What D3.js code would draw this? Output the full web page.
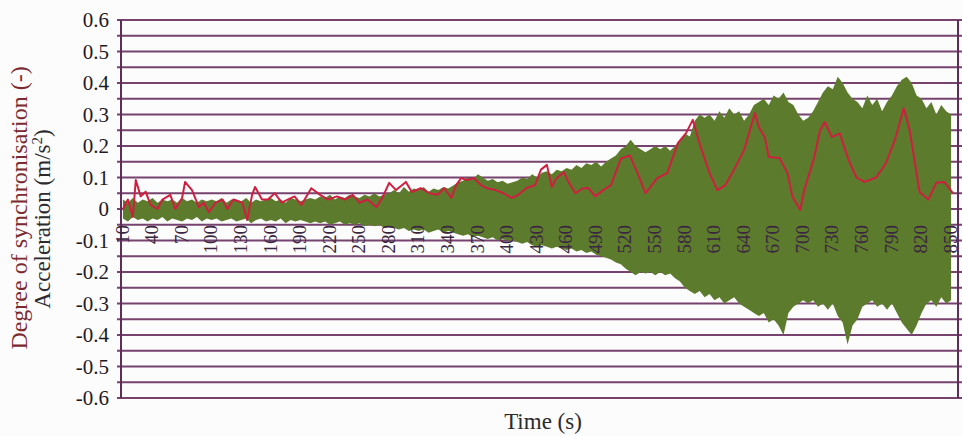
<!DOCTYPE html>
<html>
<head>
<meta charset="utf-8">
<script src="https://cdn.jsdelivr.net/npm/d3@7"></script>
<style>
  html, body { margin: 0; padding: 0; background: #fcfcfd; }
  svg { display: block; }
  svg text { font-family: "Liberation Serif", "DejaVu Serif", serif; }
</style>
</head>
<body>
<div id="chart"></div>
<script>
// x tick labels (s) and y tick values
const timeTicks = [10, 40, 70, 100, 130, 160, 190, 220, 250, 280, 310, 340, 370, 400, 430,
  460, 490, 520, 550, 580, 610, 640, 670, 700, 730, 760, 790, 820, 850];
const yTicks = [0.6, 0.5, 0.4, 0.3, 0.2, 0.1, 0, -0.1, -0.2, -0.3, -0.4, -0.5, -0.6];

// acceleration envelope, one value every 5 s from 10 s to 850 s
const accStart = 10, accStep = 5;
const accUpper = [
  0.03, 0.02, 0.035, 0.02, 0.03, 0.025, 0.035, 0.02, 0.03, 0.025, 0.03, 0.02, 0.035, 0.025, 0.03, 0.02, 0.03, 0.025, 0.03,
  0.025, 0.035, 0.02, 0.03, 0.03, 0.025, 0.035, 0.02, 0.03, 0.025, 0.03, 0.035, 0.025, 0.03, 0.02, 0.035, 0.03, 0.025, 0.03, 0.035,
  0.03, 0.04, 0.035, 0.045, 0.03, 0.04, 0.035, 0.045, 0.04, 0.035, 0.045, 0.04, 0.05, 0.04, 0.045, 0.05,
  0.06, 0.05, 0.07, 0.055, 0.065, 0.06, 0.07, 0.055, 0.065, 0.06, 0.07, 0.065,
  0.075, 0.085, 0.09, 0.1, 0.095, 0.11, 0.1, 0.09, 0.095, 0.085, 0.09, 0.08,
  0.085, 0.09, 0.1, 0.095, 0.11, 0.1, 0.115, 0.12, 0.11, 0.125,
  0.12, 0.13, 0.125, 0.14, 0.13, 0.145, 0.14, 0.15, 0.135, 0.15,
  0.16, 0.17, 0.19, 0.2, 0.22, 0.2, 0.19, 0.18, 0.19, 0.2,
  0.19, 0.2, 0.185, 0.2, 0.22, 0.24, 0.23, 0.28, 0.3, 0.29,
  0.3, 0.28, 0.31, 0.29, 0.32, 0.3, 0.31, 0.28, 0.3, 0.33,
  0.34, 0.35, 0.33, 0.36, 0.35, 0.37, 0.34, 0.33, 0.3, 0.28,
  0.29, 0.31, 0.34, 0.37, 0.39, 0.38, 0.42, 0.4, 0.37, 0.35,
  0.34, 0.32, 0.36, 0.33, 0.35, 0.31, 0.34, 0.36, 0.39, 0.41,
  0.42, 0.4, 0.36, 0.35, 0.32, 0.34, 0.3, 0.33, 0.31, 0.3
];
const accLower = [
  -0.03, -0.04, -0.025, -0.035, -0.03, -0.04, -0.03, -0.035, -0.025, -0.04, -0.03, -0.035, -0.04, -0.03, -0.035, -0.025, -0.04, -0.03, -0.035,
  -0.03, -0.04, -0.035, -0.03, -0.04, -0.035, -0.03, -0.045, -0.035, -0.03, -0.04, -0.035, -0.04, -0.03, -0.045, -0.035, -0.04, -0.035, -0.04, -0.045,
  -0.04, -0.045, -0.04, -0.05, -0.045, -0.04, -0.05, -0.045, -0.05, -0.045, -0.055, -0.05, -0.055, -0.05, -0.06, -0.055,
  -0.06, -0.065, -0.06, -0.07, -0.065, -0.07, -0.065, -0.075, -0.07, -0.065, -0.075, -0.07,
  -0.075, -0.08, -0.085, -0.08, -0.09, -0.085, -0.09, -0.095, -0.09, -0.1, -0.095, -0.1,
  -0.1, -0.105, -0.11, -0.105, -0.115, -0.12, -0.115, -0.12, -0.125, -0.12,
  -0.125, -0.13, -0.125, -0.135, -0.13, -0.14, -0.135, -0.145, -0.15, -0.155,
  -0.16, -0.17, -0.175, -0.19, -0.2, -0.21, -0.2, -0.205, -0.2, -0.21,
  -0.2, -0.21, -0.205, -0.22, -0.23, -0.25, -0.26, -0.27, -0.26, -0.28,
  -0.27, -0.29, -0.28, -0.3, -0.29, -0.28, -0.3, -0.31, -0.32, -0.33,
  -0.34, -0.33, -0.36, -0.35, -0.37, -0.4, -0.33, -0.31, -0.3, -0.29,
  -0.3, -0.29, -0.31, -0.3, -0.32, -0.3, -0.34, -0.36, -0.43, -0.37,
  -0.35, -0.31, -0.3, -0.29, -0.31, -0.3, -0.32, -0.3, -0.33, -0.36,
  -0.38, -0.4, -0.37, -0.33, -0.3, -0.29, -0.31, -0.28, -0.3, -0.29
];

// degree of synchronisation
const syncTime = [10, 15, 20, 23, 28, 33, 38, 45, 50, 58, 63, 70, 73, 80, 87, 92, 97, 104, 111, 116,
  122, 131, 136, 141, 144, 151, 157, 164, 171, 177, 184, 191, 201, 210, 218, 227, 235, 243, 250, 258,
  267, 273, 280, 287, 297, 303, 312, 321, 329, 336, 343, 348, 353, 359, 366, 373, 379, 388, 396, 404,
  411, 419, 428, 434, 440, 445, 449, 457, 463, 469, 476, 482, 489, 497, 505, 515, 524, 532, 540, 552,
  562, 573, 581, 588, 596, 605, 613, 621, 628, 640, 651, 655, 661, 665, 676, 684, 689, 697, 701, 711,
  717, 722, 729, 737, 746, 754, 762, 774, 784, 793, 802, 808, 818, 827, 835, 843, 852];
const syncValue = [0.0, 0.03, -0.025, 0.092, 0.04, 0.055, 0.013, 0.0, 0.03, 0.045, 0.0, 0.035, 0.086, 0.06, 0.006, 0.02, -0.01, 0.02, 0.03, 0.0,
  0.03, 0.02, -0.035, 0.045, 0.07, 0.03, 0.03, 0.05, 0.02, 0.03, 0.04, 0.013, 0.066, 0.045, 0.03, 0.04, 0.03, 0.045, 0.02, 0.03,
  0.006, 0.035, 0.083, 0.06, 0.086, 0.054, 0.066, 0.05, 0.045, 0.066, 0.035, 0.076, 0.098, 0.092, 0.098, 0.076, 0.066, 0.06, 0.05, 0.035,
  0.045, 0.066, 0.076, 0.125, 0.14, 0.07, 0.095, 0.117, 0.08, 0.05, 0.065, 0.067, 0.04, 0.06, 0.076, 0.16, 0.17, 0.114, 0.05, 0.098,
  0.114, 0.21, 0.24, 0.283, 0.197, 0.114, 0.06, 0.076, 0.114, 0.187, 0.305, 0.26, 0.228, 0.165, 0.162, 0.114, 0.04, -0.003, 0.06, 0.162,
  0.25, 0.276, 0.228, 0.24, 0.156, 0.1, 0.086, 0.1, 0.146, 0.22, 0.32, 0.25, 0.054, 0.03, 0.083, 0.086, 0.05];

const width = 962, height = 436;
const plot = { left: 121, right: 958, top: 20, bottom: 398 };
const serif = '"Liberation Serif", "DejaVu Serif", serif';

const svg = d3.select('#chart')
  .append('svg')
  .attr('width', width)
  .attr('height', height)
  .attr('font-family', serif);

const x = d3.scaleLinear().domain([8, 857]).range([plot.left, plot.right]);
const y = d3.scaleLinear().domain([-0.6, 0.6]).range([plot.bottom, plot.top]);

// gridlines every 0.05
const gridValues = d3.range(-12, 13).map(i => i * 0.05);
svg.append('g')
  .attr('class', 'grid')
  .selectAll('line')
  .data(gridValues)
  .join('line')
  .attr('x1', plot.left - 4)
  .attr('x2', plot.right + 4)
  .attr('y1', d => y(d))
  .attr('y2', d => y(d))
  .attr('stroke', '#76426e')
  .attr('stroke-width', 1.8);

// acceleration
const acc = accUpper.map((u, i) => ({ t: accStart + i * accStep, hi: u, lo: accLower[i] }));
const accArea = d3.area()
  .x(d => x(d.t))
  .y0(d => y(d.lo))
  .y1(d => y(d.hi));
svg.append('path')
  .datum(acc)
  .attr('class', 'acc')
  .attr('fill', '#5d7b2c')
  .attr('d', accArea);

// synchronisation
const sync = syncTime.map((t, i) => ({ t: t, v: syncValue[i] }));
const syncLine = d3.line()
  .x(d => x(d.t))
  .y(d => y(d.v));
svg.append('path')
  .datum(sync)
  .attr('class', 'sync')
  .attr('fill', 'none')
  .attr('stroke', '#cf1f40')
  .attr('stroke-width', 2)
  .attr('stroke-linejoin', 'round')
  .attr('d', syncLine);

// plot borders
svg.append('g')
  .selectAll('line')
  .data([plot.left, plot.right])
  .join('line')
  .attr('x1', d => d)
  .attr('x2', d => d)
  .attr('y1', plot.top)
  .attr('y2', plot.bottom)
  .attr('stroke', '#5e2d58')
  .attr('stroke-width', 2);

// y tick labels
svg.append('g')
  .attr('class', 'y-ticks')
  .selectAll('text')
  .data(yTicks)
  .join('text')
  .attr('x', 109)
  .attr('y', d => y(d))
  .attr('dy', '0.35em')
  .attr('text-anchor', 'end')
  .attr('font-family', serif)
  .attr('font-size', 21)
  .attr('fill', '#1e1a22')
  .text(d => (d === 0 ? '0' : d.toFixed(1)));

// x tick labels, rotated, hanging below the zero line
svg.append('g')
  .attr('class', 'x-ticks')
  .selectAll('text')
  .data(timeTicks)
  .join('text')
  .attr('transform', d => `translate(${x(d)}, 225) rotate(-90)`)
  .attr('dy', '0.3em')
  .attr('text-anchor', 'end')
  .attr('font-family', serif)
  .attr('font-size', 19)
  .attr('fill', '#3a2640')
  .text(d => d);

// axis titles
svg.append('text')
  .attr('transform', 'translate(27, 208) rotate(-90)')
  .attr('text-anchor', 'middle')
  .attr('font-family', serif)
  .attr('font-size', 24)
  .attr('fill', '#7a2a30')
  .text('Degree of synchronisation (-)');

const accTitle = svg.append('text')
  .attr('transform', 'translate(50, 219) rotate(-90)')
  .attr('text-anchor', 'middle')
  .attr('font-family', serif)
  .attr('font-size', 23)
  .attr('fill', '#2b2b2e');
accTitle.append('tspan').text('Acceleration (m/s');
accTitle.append('tspan').attr('baseline-shift', 'super').attr('font-size', 15).text('2');
accTitle.append('tspan').text(')');

svg.append('text')
  .attr('x', 543)
  .attr('y', 429)
  .attr('text-anchor', 'middle')
  .attr('font-family', serif)
  .attr('font-size', 23)
  .attr('fill', '#2b2b2e')
  .text('Time (s)');
</script>
</body>
</html>
